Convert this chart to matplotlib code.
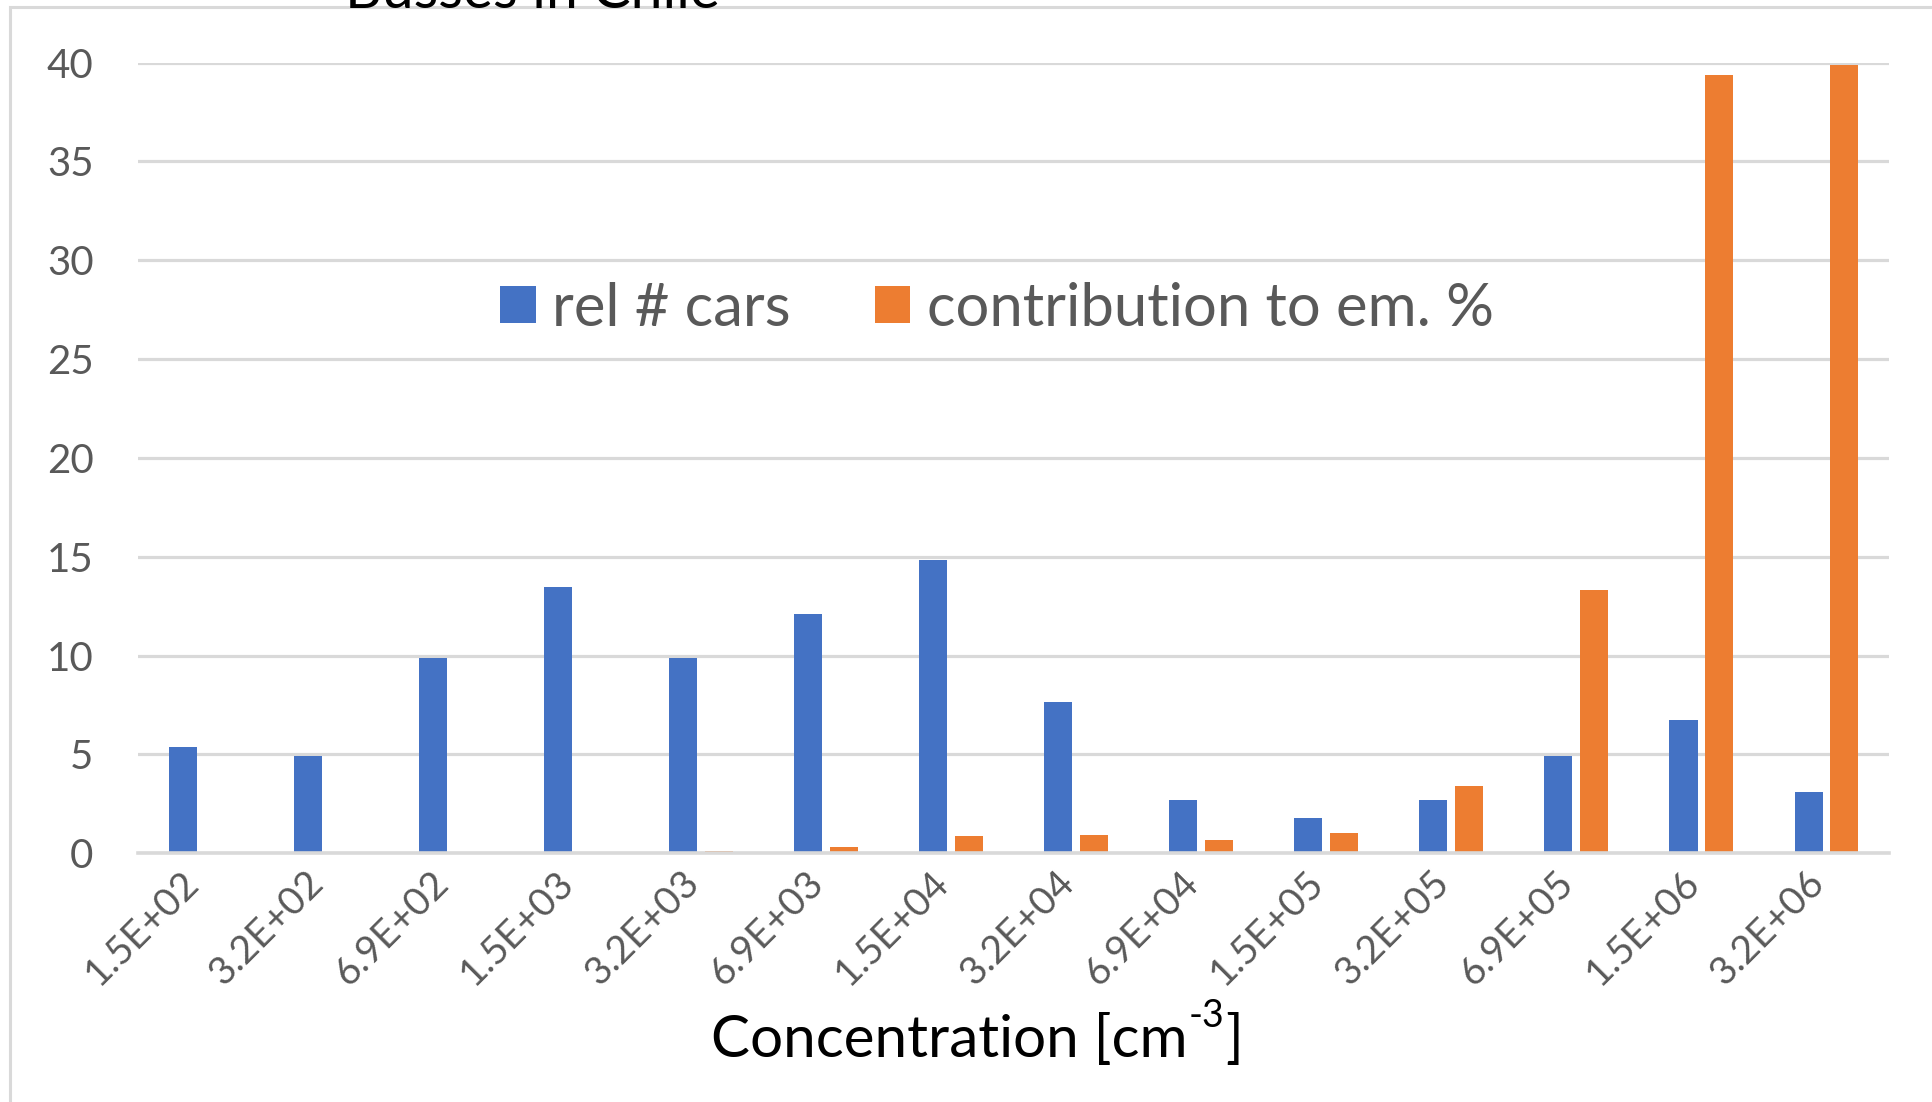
import numpy as np
import matplotlib.pyplot as plt
from matplotlib.patches import Rectangle

plt.rcParams['font.family'] = ['Lato', 'DejaVu Sans']

# concentration bins
categories = ["1.5E+02", "3.2E+02", "6.9E+02", "1.5E+03", "3.2E+03", "6.9E+03", "1.5E+04",
              "3.2E+04", "6.9E+04", "1.5E+05", "3.2E+05", "6.9E+05", "1.5E+06", "3.2E+06"]
rel_cars = [5.37, 4.93, 9.86, 13.45, 9.86, 12.12, 14.82, 7.63, 2.68, 1.79, 2.68, 4.93, 6.74, 3.10]
contribution = [0.0, 0.0, 0.0, 0.0, 0.12, 0.32, 0.86, 0.94, 0.69, 1.03, 3.39, 13.34, 39.39, 39.85]
yticks = [0, 5, 10, 15, 20, 25, 30, 35, 40]

BLUE = "#4472C4"
ORANGE = "#ED7D31"
GRID = "#D9D9D9"
TXT = "#595959"

W, H = 1933, 1102
fig = plt.figure(figsize=(W / 100, H / 100), dpi=100)
ax = fig.add_axes([138 / W, 1 - 853.3 / H, (1889 - 138) / W, (853.3 - 62.5) / H])

x = np.arange(len(categories))
bw = 0.224
ax.bar(x - 0.143, rel_cars, width=bw, color=BLUE, label="rel # cars", zorder=3)
ax.bar(x + 0.143, contribution, width=bw, color=ORANGE, label="contribution to em. %", zorder=3)

ax.set_xlim(-0.5, len(categories) - 0.5)
ax.set_ylim(0, 40)
ax.set_yticks(yticks)
ax.set_xticks(x)
ax.set_xticklabels(categories, rotation=45, ha="right", va="baseline", rotation_mode="anchor")

ax.grid(axis="y", color=GRID, linewidth=2.3, zorder=0)
ax.set_axisbelow(True)
for side in ["top", "right", "left"]:
    ax.spines[side].set_visible(False)
ax.spines["bottom"].set_color(GRID)
ax.spines["bottom"].set_linewidth(2.6)
ax.spines["bottom"].set_zorder(4)

ax.tick_params(axis="y", length=0, pad=32, labelsize=29, labelcolor=TXT)
ax.tick_params(axis="x", length=0, pad=23, labelsize=28, labelcolor=TXT)

ax.legend(loc="center", bbox_to_anchor=(997 / W, 1 - 309 / H), bbox_transform=fig.transFigure,
          ncol=2, frameon=False, fontsize=43, labelcolor=TXT,
          handlelength=0.6, handleheight=0.58, handletextpad=0.28, columnspacing=1.4)

# outer chart frame
fig.add_artist(Rectangle((10 / W, -0.1), 1.2, 1.1 - 7 / H, transform=fig.transFigure,
                         fill=False, edgecolor=GRID, linewidth=2.2, zorder=1))
fig.text(533 / W, 1 - 8 / H, "Busses in Chile", ha="center", va="baseline", fontsize=41,
         color="black", zorder=5)

# x axis title with a small raised "-3"
renderer = fig.canvas.get_renderer()
base_y = 1 - 1057 / H
t1 = fig.text(711 / W, base_y, "Concentration [cm", ha="left", va="baseline",
              fontsize=42, color="black")
x1 = t1.get_window_extent(renderer).x1 / W
t2 = fig.text(x1 + 1 / W, base_y + 30 / H, "-3", ha="left", va="baseline",
              fontsize=27, color="black")
x2 = t2.get_window_extent(renderer).x1 / W
fig.text(x2 + 1 / W, base_y, "]", ha="left", va="baseline", fontsize=42, color="black")

fig.savefig("out.png", dpi=100)
